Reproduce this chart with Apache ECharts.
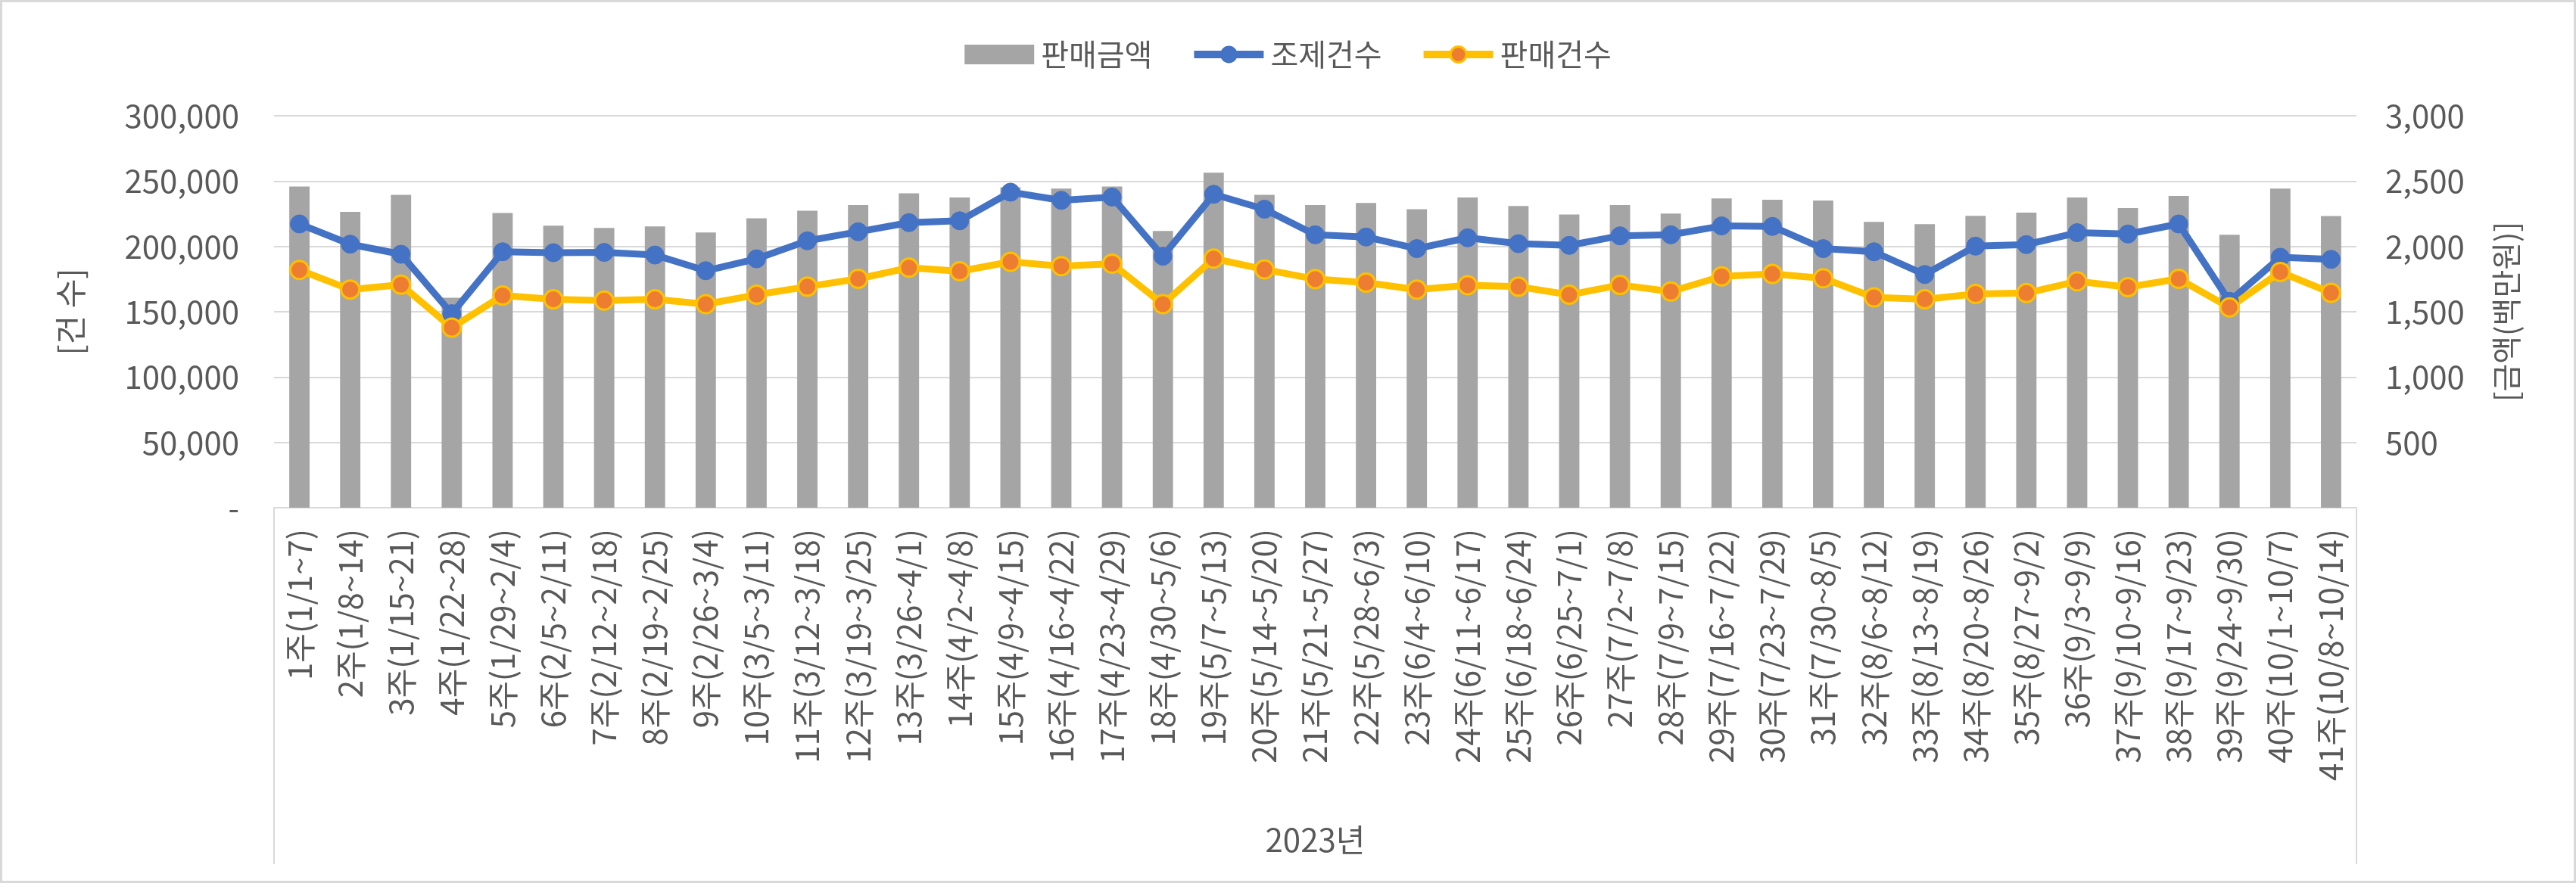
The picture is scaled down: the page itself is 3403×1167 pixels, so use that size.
<!DOCTYPE html>
<html>
<head>
<meta charset="utf-8">
<script src="https://cdn.jsdelivr.net/npm/echarts@6/dist/echarts.min.js"></script>
<style>
html,body{margin:0;padding:0;background:#fff;}
#c{width:3403px;height:1167px;box-sizing:border-box;border:3px solid #d9d9d9;}
</style>
</head>
<body>
<div id="c"></div>
<script>
const weeks = ['1주(1/1~7)','2주(1/8~14)','3주(1/15~21)','4주(1/22~28)','5주(1/29~2/4)','6주(2/5~2/11)','7주(2/12~2/18)','8주(2/19~2/25)','9주(2/26~3/4)','10주(3/5~3/11)','11주(3/12~3/18)','12주(3/19~3/25)','13주(3/26~4/1)','14주(4/2~4/8)','15주(4/9~4/15)','16주(4/16~4/22)','17주(4/23~4/29)','18주(4/30~5/6)','19주(5/7~5/13)','20주(5/14~5/20)','21주(5/21~5/27)','22주(5/28~6/3)','23주(6/4~6/10)','24주(6/11~6/17)','25주(6/18~6/24)','26주(6/25~7/1)','27주(7/2~7/8)','28주(7/9~7/15)','29주(7/16~7/22)','30주(7/23~7/29)','31주(7/30~8/5)','32주(8/6~8/12)','33주(8/13~8/19)','34주(8/20~8/26)','35주(8/27~9/2)','36주(9/3~9/9)','37주(9/10~9/16)','38주(9/17~9/23)','39주(9/24~9/30)','40주(10/1~10/7)','41주(10/8~10/14)'];
const yearGroup = ['2023년'];
const salesAmount = [2459,2264,2395,1607,2256,2159,2141,2153,2107,2215,2273,2316,2407,2374,2453,2442,2459,2118,2564,2395,2316,2333,2285,2374,2310,2244,2316,2252,2368,2357,2351,2188,2171,2234,2258,2374,2293,2386,2089,2442,2233];
const dispenseCount = [217200,201700,194000,148500,195900,195200,195400,193400,181400,190500,204300,211200,218200,219600,241500,235300,237800,192500,239900,228500,208900,207200,198300,206600,202100,200800,208100,208900,215700,215300,198300,195900,178500,200200,201400,210500,209500,217200,158000,191700,190100];
const salesCount = [182000,167000,170700,137800,162400,159500,158500,159500,155800,163000,169200,175200,183700,181000,188200,184900,186800,155800,190700,182400,175000,172300,166900,170300,169200,163000,170500,165500,177100,178900,175600,161000,159500,163600,164300,173300,168800,175200,153300,180400,164500];
const seriesNames = ['판매금액','조제건수','판매건수'];
const leftAxisName = '[건 수]';
const rightAxisName = '[금액(백만원)]';

const FONT = 'Noto Sans CJK KR';
const TXT = '#595959';
const GRID = '#d9d9d9';
const BLUE = '#4472c4', YEL = '#ffc000', ORG = '#ed7d31', GRAY = '#a5a5a5';

const chart = echarts.init(document.getElementById('c'), null, {renderer:'canvas'});
chart.setOption({
  animation:false,
  textStyle:{fontFamily:FONT,color:TXT},
  legend:{
    top:44,left:'center',itemGap:50,itemWidth:92,itemHeight:26,
    textStyle:{fontSize:40,color:TXT,fontFamily:FONT,padding:[0,0,0,4]},
    data:[
      {name:seriesNames[0],icon:'rect',itemStyle:{color:GRAY}},
      {name:seriesNames[1],lineStyle:{width:10,color:BLUE},itemStyle:{color:BLUE,borderColor:BLUE}},
      {name:seriesNames[2],lineStyle:{width:10,color:YEL},itemStyle:{color:ORG,borderColor:YEL,borderWidth:3}}
    ]
  },
  grid:{left:359,right:287,top:150,bottom:493,containLabel:false},
  xAxis:[{
    type:'category',data:weeks,position:'bottom',
    axisLine:{show:true,lineStyle:{color:GRID,width:2}},
    axisTick:{show:false},
    axisLabel:{interval:0,rotate:90,fontSize:42,color:TXT,fontFamily:FONT,margin:28}
  },{
    type:'category',data:yearGroup,position:'bottom',
    axisLine:{show:false},
    axisTick:{show:true,length:471,lineStyle:{color:GRID,width:2}},
    axisLabel:{fontSize:42,color:TXT,fontFamily:FONT,margin:418}
  }],
  yAxis:[{
    type:'value',min:0,max:300000,interval:50000,position:'left',
    name:leftAxisName,nameLocation:'middle',nameGap:248,nameRotate:90,
    nameTextStyle:{fontSize:42,color:TXT,fontFamily:FONT},
    axisLine:{show:false},axisTick:{show:false},
    splitLine:{lineStyle:{color:GRID,width:2}},
    axisLabel:{fontSize:42,color:TXT,fontFamily:FONT,margin:46,
      formatter:v=>v===0?'-':v.toLocaleString('en-US')}
  },{
    type:'value',min:0,max:3000,interval:500,position:'right',
    name:rightAxisName,nameLocation:'middle',nameGap:178,nameRotate:90,
    nameTextStyle:{fontSize:40,color:TXT,fontFamily:FONT},
    axisLine:{show:false},axisTick:{show:false},splitLine:{show:false},
    axisLabel:{fontSize:42,color:TXT,fontFamily:FONT,margin:38,
      formatter:v=>v===0?'':v.toLocaleString('en-US')}
  }],
  series:[{
    name:seriesNames[0],type:'bar',xAxisIndex:0,yAxisIndex:1,data:salesAmount,
    barWidth:'40%',itemStyle:{color:GRAY}
  },{
    name:seriesNames[1],type:'line',xAxisIndex:0,yAxisIndex:0,data:dispenseCount,
    symbol:'circle',symbolSize:24,
    lineStyle:{color:BLUE,width:9},
    itemStyle:{color:BLUE,borderColor:BLUE,borderWidth:1}
  },{
    name:seriesNames[2],type:'line',xAxisIndex:0,yAxisIndex:0,data:salesCount,
    symbol:'circle',symbolSize:24,
    lineStyle:{color:YEL,width:9},
    itemStyle:{color:ORG,borderColor:YEL,borderWidth:3}
  }]
});
</script>
</body>
</html>
